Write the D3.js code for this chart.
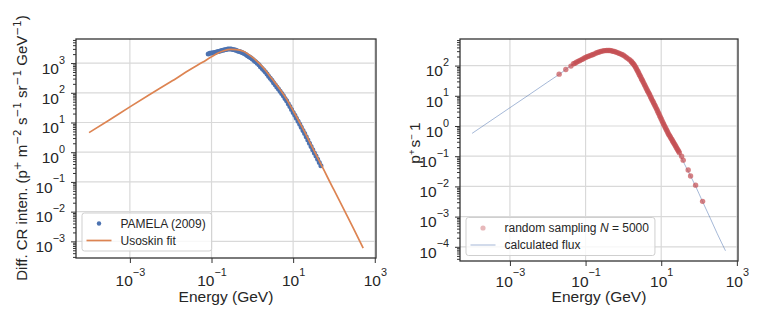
<!DOCTYPE html>
<html>
<head>
<meta charset="utf-8">
<script src="https://cdnjs.cloudflare.com/ajax/libs/d3/7.8.5/d3.min.js"></script>
<style>
    body { margin: 0; background: #fff; }
    svg { display: block; font-family: "Liberation Sans", Arial, sans-serif; }
    .grid line { stroke: #d9d9d9; stroke-width: 1.2; }
    .axis path { display: none; }
    .axis line { stroke: #333; stroke-width: 1; }
    .axis text { fill: #262626; font-size: 15.5px; font-family: "Liberation Sans", Arial, sans-serif; }
    .frame { fill: none; stroke: #333; stroke-width: 1.3; }
    .legend-box { fill: #fff; fill-opacity: 0.8; stroke: #cfcfcf; stroke-width: 1; }
    .legend text { font-size: 12px; fill: #262626; }
    .label { font-size: 15.5px; fill: #262626; }
</style>
</head>
<body>
<div id="chart"></div>
<script>

// tick positions
const xTicks = [1e-3, 1e-1, 1e1, 1e3];
const yTicksLeft = [1e-3, 1e-2, 1e-1, 1e0, 1e1, 1e2, 1e3];
const yTicksRight = [1e-4, 1e-3, 1e-2, 1e-1, 1e0, 1e1, 1e2];

// left: PAMELA (2009) points
const pamelaEnergy = [0.083, 0.091, 0.100, 0.110, 0.120, 0.132, 0.145, 0.158, 0.174, 0.191,
    0.209, 0.229, 0.251, 0.275, 0.302, 0.331, 0.363, 0.398, 0.437, 0.479,
    0.525, 0.575, 0.631, 0.692, 0.759, 0.832, 0.912,
    1.00, 1.10, 1.20, 1.32, 1.45, 1.58, 1.74, 1.91, 2.09, 2.29,
    2.51, 2.75, 3.02, 3.31, 3.63, 3.98, 4.37, 4.79, 5.25, 5.75,
    6.31, 6.92, 7.59, 8.32, 9.12,
    10.0, 11.0, 12.0, 13.2, 14.5, 15.8, 17.4, 19.1, 20.9, 22.9,
    25.1, 27.5, 30.2, 33.1, 36.3, 39.8, 43.7, 47.9];
const pamelaFlux = [2000, 2140, 2190, 2240, 2290, 2340, 2450, 2510, 2630, 2690,
    2820, 2880, 2950, 2950, 2950, 2880, 2820, 2690, 2570, 2450,
    2340, 2240, 2110, 1950, 1780, 1620, 1510,
    1380, 1230, 1100, 977, 871, 759, 661, 575, 501, 427,
    363, 309, 263, 219, 186, 158, 135, 112, 95.5, 79.4,
    64.6, 53.7, 42.7, 34.7, 27.5,
    21.9, 17.4, 13.8, 11.0, 8.71, 6.92, 5.37, 4.27, 3.31, 2.57,
    2.00, 1.55, 1.20, 0.933, 0.741, 0.575, 0.447, 0.347];

// left: Usoskin fit
const usoskinEnergy = [1e-4, 3e-4, 1e-3, 3e-3, 0.01, 0.03, 0.06, 0.1, 0.15, 0.2,
    0.3, 0.4, 0.6, 1, 1.5, 2, 3, 5, 7, 10,
    15, 20, 30, 50, 70, 100, 200, 300, 520];
const usoskinFlux = [4.57, 11.7, 33.5, 85.7, 234, 603, 1060, 1620, 2240, 2600,
    2870, 2850, 2510, 1580, 955, 617, 302, 120, 60, 25,
    9.1, 4.27, 1.41, 0.355, 0.141, 0.0537, 0.0083, 0.00275, 0.00059];

// right: calculated flux
const fluxEnergy = [1e-4, 3e-4, 1e-3, 3e-3, 0.01, 0.02, 0.05, 0.1, 0.2, 0.3,
    0.4, 0.6, 1, 1.5, 2, 3, 5, 7, 10, 12,
    20, 30, 50, 80, 123, 200, 300, 500];
const fluxRate = [0.57, 1.45, 4.03, 10.2, 28.5, 51, 118, 186, 275, 305,
    316, 292, 219, 150, 100, 37, 10.2, 4.5, 1.7, 1.05,
    0.30, 0.12, 0.034, 0.0105, 0.0032, 0.00086, 0.00028, 0.000074];

// right: random sampling N = 5000
const sampleEnergy = [0.020, 0.030, 0.041,
    0.0479, 0.0525, 0.0575, 0.0631, 0.0692, 0.0759, 0.0832, 0.0912, 0.100, 0.110,
    0.120, 0.132, 0.145, 0.158, 0.174, 0.191, 0.209, 0.229, 0.251, 0.275,
    0.302, 0.331, 0.363, 0.398, 0.437, 0.479, 0.525, 0.575, 0.631, 0.692,
    0.759, 0.832, 0.912, 1.00, 1.10, 1.20, 1.32, 1.45,
    1.585, 1.66, 1.74, 1.82, 1.91, 2.00, 2.09, 2.19, 2.29, 2.40,
    2.51, 2.63, 2.75, 2.88, 3.02, 3.16, 3.31, 3.47, 3.63, 3.80,
    3.98, 4.17, 4.37, 4.57, 4.79, 5.01, 5.25, 5.50, 5.75, 6.03,
    6.31, 6.61, 6.92, 7.24, 7.59, 7.94, 8.32, 8.71, 9.12, 9.55,
    10.0, 10.5, 11.0, 11.5, 12.0, 12.6, 13.2, 13.8, 14.5, 15.1,
    15.8, 16.6, 17.4, 18.2, 19.1, 20.0, 20.9, 21.9, 22.9, 24.0,
    25.1, 26.3, 27.5, 28.8, 30.2,
    34.6, 38.1, 51.6, 59.7, 81, 124];
const sampleRate = [52, 74, 96,
    115, 120, 129, 138, 145, 155, 162, 174, 186, 195,
    204, 214, 224, 234, 245, 263, 272, 282, 292, 302,
    309, 313, 316, 316, 316, 309, 299, 292, 282, 269,
    257, 245, 232, 219, 202, 186, 170, 157,
    141, 132, 123, 115, 107, 98, 89, 80, 72, 65,
    58, 51, 46, 41, 36, 32.5, 29, 25.8, 23, 20.5,
    18.2, 16.2, 14.5, 13.0, 11.7, 10.4, 9.1, 8.1, 7.2, 6.45,
    5.75, 5.1, 4.57, 4.07, 3.63, 3.2, 2.82, 2.48, 2.19, 1.93,
    1.70, 1.50, 1.32, 1.17, 1.05, 0.93, 0.83, 0.74, 0.66, 0.59,
    0.52, 0.48, 0.43, 0.39, 0.355, 0.32, 0.29, 0.265, 0.24, 0.218,
    0.195, 0.177, 0.16, 0.145, 0.13,
    0.10, 0.074, 0.035, 0.022, 0.011, 0.0032];

const MINUS = "\u2212";
const THIN = "\u2009";

// writes [text, kind] pieces into a text node, kind "sup" raises the piece
function writeParts(textSel, parts, size, opt) {
    opt = opt || {};
    let raised = false;
    let rise = opt.rise || size * 0.66;
    let supScale = opt.supScale || 0.7;
    parts.forEach(p => {
        let ts = textSel.append("tspan").text(p[0]);
        if (p[1] === "sup") {
            ts.attr("font-size", size * supScale).attr("dy", raised ? 0 : -rise);
            if (opt.supFont) ts.attr("font-family", opt.supFont);
            raised = true;
        } else {
            if (raised) ts.attr("dy", rise);
            raised = false;
            if (p[1] === "it") ts.attr("font-style", "italic");
        }
    });
}

function powerParts(v) {
    let e = Math.round(Math.log10(v));
    return [["10"], [e < 0 ? MINUS + Math.abs(e) : String(e), "sup"]];
}

class logPanel {

    constructor(opts) {
        this.svg = opts.svg;
        this.left = opts.left;
        this.top = opts.top;
        this.width = opts.width;
        this.height = opts.height;
        this.xDomain = opts.xDomain;
        this.yDomain = opts.yDomain;
        this.yTicks = opts.yTicks;
        this.xTickPad = opts.xTickPad;
        this.yLabel = opts.yLabel;
        this.yLabelPos = opts.yLabelPos;
        this.yLabelSize = opts.yLabelSize;
        this.yLabelOpt = opts.yLabelOpt;
        this.xLabelY = opts.xLabelY;
        this.legend = opts.legend;
        this.drawMarks = opts.drawMarks;

        this._setScales();
        this.draw();
    }

    _setScales() {
        this.xScale = d3.scaleLog().domain(this.xDomain).range([0, this.width]);
        this.yScale = d3.scaleLog().domain(this.yDomain).range([this.height, 0]);

        this.line = d3.line()
            .curve(d3.curveMonotoneX)
            .x(d => this.xScale(d[0]))
            .y(d => this.yScale(d[1]));

        // minor ticks 2..9 in every decade
        this.minorTicks = [];
        let lo = Math.floor(Math.log10(this.yDomain[0]));
        let hi = Math.ceil(Math.log10(this.yDomain[1]));
        for (let k = lo; k < hi; k++) {
            for (let m = 2; m < 10; m++) {
                let v = m * Math.pow(10, k);
                if (v >= this.yDomain[0] && v <= this.yDomain[1]) this.minorTicks.push(v);
            }
        }
    }

    draw() {
        this.plot = this.svg.append("g")
            .attr("transform", `translate(${this.left},${this.top})`);

        let grid = this.plot.append("g").attr("class", "grid");
        grid.selectAll(".gx")
            .data(xTicks).enter()
            .append("line")
            .attr("x1", d => this.xScale(d))
            .attr("x2", d => this.xScale(d))
            .attr("y1", 0)
            .attr("y2", this.height);
        grid.selectAll(".gy")
            .data(this.yTicks).enter()
            .append("line")
            .attr("x1", 0)
            .attr("x2", this.width)
            .attr("y1", d => this.yScale(d))
            .attr("y2", d => this.yScale(d));

        // x axis
        this.plot.append("g")
            .attr("class", "axis x-axis")
            .attr("transform", `translate(0,${this.height})`)
            .call(d3.axisBottom(this.xScale).tickValues(xTicks).tickSize(5).tickPadding(this.xTickPad))
            .selectAll("text")
            .each(function(d) {
                let t = d3.select(this).text(null);
                writeParts(t, powerParts(d), 15.5);
            });

        // y axis, major then minor
        this.plot.append("g")
            .attr("class", "axis y-axis")
            .call(d3.axisLeft(this.yScale).tickValues(this.yTicks).tickSize(5).tickPadding(6))
            .selectAll("text")
            .attr("dy", "0.66em")
            .each(function(d) {
                let t = d3.select(this).text(null);
                writeParts(t, powerParts(d), 15.5);
            });

        this.plot.append("g")
            .attr("class", "axis y-minor")
            .call(d3.axisLeft(this.yScale).tickValues(this.minorTicks).tickSize(3).tickFormat(""));

        this.drawMarks(this);

        this.plot.append("rect")
            .attr("class", "frame")
            .attr("width", this.width)
            .attr("height", this.height);

        this.plot.append("text")
            .attr("class", "label")
            .attr("x", this.width / 2)
            .attr("y", this.xLabelY)
            .attr("text-anchor", "middle")
            .text("Energy (GeV)");

        // rotated y label, centred by its measured length
        let yl = this.plot.append("text")
            .attr("class", "label")
            .style("font-size", this.yLabelSize + "px")
            .attr("transform", `translate(${this.yLabelPos[0]},${this.yLabelPos[1]}) rotate(-90)`);
        writeParts(yl, this.yLabel, this.yLabelSize, this.yLabelOpt);
        yl.attr("x", -yl.node().getComputedTextLength() / 2);

        this._drawLegend();
    }

    _drawLegend() {
        let lg = this.legend;
        let g = this.plot.append("g").attr("class", "legend");
        let box = g.append("rect").attr("class", "legend-box").attr("rx", 2.5);
        let textW = 0;

        lg.entries.forEach((e, i) => {
            let cy = lg.y + 2 + 17 * (i + 0.5);
            if (e.type === "dot") {
                g.append("circle")
                    .attr("cx", lg.x + 17)
                    .attr("cy", cy)
                    .attr("r", e.r)
                    .attr("fill", e.color)
                    .attr("fill-opacity", e.opacity);
            } else {
                g.append("line")
                    .attr("x1", lg.x + 4.5)
                    .attr("x2", lg.x + 29.5)
                    .attr("y1", cy)
                    .attr("y2", cy)
                    .attr("stroke", e.color)
                    .attr("stroke-opacity", e.opacity)
                    .attr("stroke-width", e.width);
            }
            let t = g.append("text")
                .attr("x", lg.x + 38.5)
                .attr("y", cy + 4.3);
            writeParts(t, e.label, 12);
            textW = Math.max(textW, t.node().getComputedTextLength());
        });

        box.attr("x", lg.x)
            .attr("y", lg.y)
            .attr("width", 38.5 + textW + 6)
            .attr("height", 4 + 17 * lg.entries.length);
    }
}

let svg = d3.select("#chart").append("svg")
    .attr("width", 759)
    .attr("height", 320);

new logPanel({
    svg: svg,
    left: 76, top: 39, width: 300, height: 219,
    xDomain: [Math.pow(10, -4.32), Math.pow(10, 3.03)],
    yDomain: [Math.pow(10, -3.56), Math.pow(10, 3.81)],
    yTicks: yTicksLeft,
    xTickPad: 12,
    yLabel: [["Diff. CR inten. (p"], ["+", "sup"], [" m"], [MINUS + "2", "sup"], [" s"], [MINUS + "1", "sup"],
        [" sr"], [MINUS + "1", "sup"], [" GeV"], [MINUS + "1", "sup"], [")"]],
    yLabelPos: [-49.5, 109],
    yLabelSize: 15,
    yLabelOpt: {rise: 5.5, supFont: "DejaVu Sans"},
    xLabelY: 263,
    legend: {
        x: 6, y: 174,
        entries: [
            {type: "dot", color: "#4c72b0", opacity: 1, r: 2.2, label: [["PAMELA (2009)"]]},
            {type: "line", color: "#dd8452", opacity: 1, width: 1.7, label: [["Usoskin fit"]]}
        ]
    },
    drawMarks: p => {
        let pts = pamelaEnergy.map((e, i) => [e, pamelaFlux[i]]);
        p.plot.append("g").selectAll("circle")
            .data(pts).enter()
            .append("circle")
            .attr("cx", d => p.xScale(d[0]))
            .attr("cy", d => p.yScale(d[1]))
            .attr("r", 2.5)
            .attr("fill", "#4c72b0");

        p.plot.append("path")
            .datum(usoskinEnergy.map((e, i) => [e, usoskinFlux[i]]))
            .attr("d", p.line)
            .attr("fill", "none")
            .attr("stroke", "#dd8452")
            .attr("stroke-width", 1.7);
    }
});

new logPanel({
    svg: svg,
    left: 460, top: 39, width: 278, height: 222,
    xDomain: [Math.pow(10, -4.32), Math.pow(10, 3.03)],
    yDomain: [Math.pow(10, -4.47), Math.pow(10, 2.88)],
    yTicks: yTicksRight,
    xTickPad: 9.5,
    yLabel: [["p"], ["+" + THIN, "sup"], ["s"], [MINUS, "sup"], [THIN + "1"]],
    yLabelPos: [-40, 104],
    yLabelSize: 15.5,
    yLabelOpt: {rise: 5.5, supScale: 0.62},
    xLabelY: 263,
    legend: {
        x: 6, y: 178.5,
        entries: [
            {type: "dot", color: "#c44e52", opacity: 0.4, r: 2.6,
                label: [["random sampling "], ["N", "it"], [" = 5000"]]},
            {type: "line", color: "#4c72b0", opacity: 0.5, width: 1, label: [["calculated flux"]]}
        ]
    },
    drawMarks: p => {
        p.plot.append("path")
            .datum(fluxEnergy.map((e, i) => [e, fluxRate[i]]))
            .attr("d", p.line)
            .attr("fill", "none")
            .attr("stroke", "#4c72b0")
            .attr("stroke-opacity", 0.5)
            .attr("stroke-width", 1);

        let pts = sampleEnergy.map((e, i) => [e, sampleRate[i]]);
        p.plot.append("g").selectAll("circle")
            .data(pts).enter()
            .append("circle")
            .attr("cx", d => p.xScale(d[0]))
            .attr("cy", d => p.yScale(d[1]))
            .attr("r", 2.7)
            .attr("fill", "#c44e52")
            .attr("fill-opacity", 0.7);
    }
});

</script>
</body>
</html>
